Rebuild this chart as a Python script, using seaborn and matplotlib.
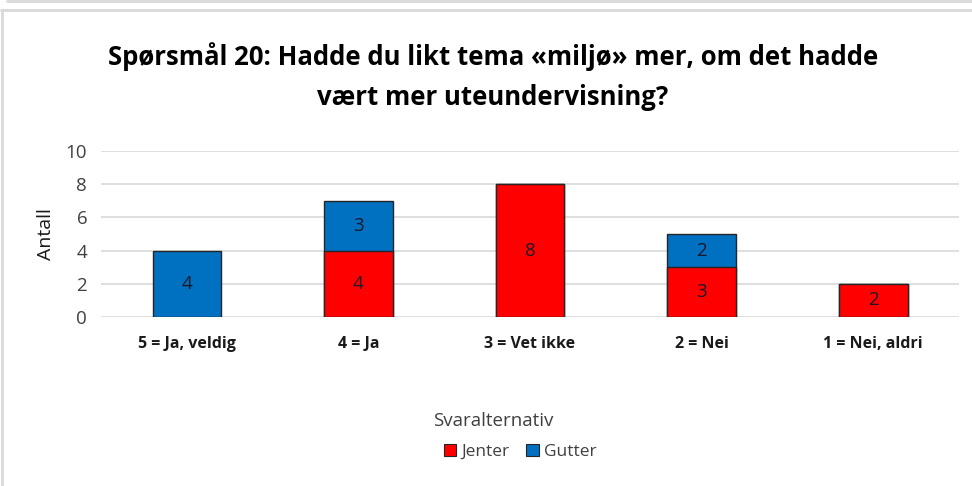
import matplotlib
matplotlib.use("Agg")
import matplotlib.pyplot as plt
import seaborn as sns
import pandas as pd
from matplotlib.lines import Line2D
from matplotlib.patches import Patch

categories = ["5 = Ja, veldig", "4 = Ja", "3 = Vet ikke", "2 = Nei", "1 = Nei, aldri"]
jenter = [0, 4, 8, 3, 2]
gutter = [4, 3, 0, 2, 0]
yticks = [0, 2, 4, 6, 8, 10]

title = "Spørsmål 20: Hadde du likt tema «miljø» mer, om det hadde\nvært mer uteundervisning?"
ylabel = "Antall"
legend_title = "Svaralternativ"
series_names = ["Jenter", "Gutter"]

red = "#FF0000"
blue = "#0070C0"

sns.set_theme(style="white")
plt.rcParams["font.family"] = ["Open Sans", "DejaVu Sans"]

df = pd.DataFrame({"cat": categories, "jenter": jenter, "gutter": gutter})
df["total"] = df["jenter"] + df["gutter"]

fig = plt.figure(figsize=(9.72, 4.86), dpi=100)
ax = fig.add_axes([0.104, 0.3477, 0.8826, 0.3416])

sns.barplot(data=df, x="cat", y="total", color=blue, width=0.4, ax=ax,
            edgecolor="#262626", linewidth=1.0, saturation=1, zorder=3)
sns.barplot(data=df, x="cat", y="jenter", color=red, width=0.4, ax=ax,
            edgecolor="#262626", linewidth=1.0, saturation=1, zorder=4)

for p in ax.patches:
    if p.get_height() == 0:
        p.set_visible(False)

for i, (j, g) in enumerate(zip(jenter, gutter)):
    if j > 0:
        ax.text(i, j / 2, str(j), ha="center", va="center", fontsize=13.5,
                color="#1a1a2a", zorder=5)
    if g > 0:
        ax.text(i, j + g / 2, str(g), ha="center", va="center", fontsize=13.5,
                color="#1a1a2a", zorder=5)

ax.set_ylim(0, 10)
ax.set_xlim(-0.5, 4.5)
ax.set_yticks(yticks)
ax.set_yticklabels([str(v) for v in yticks], fontsize=13.5, color="#404040")
ax.set_xticks(range(len(categories)))
ax.set_xticklabels(categories, fontsize=11.5, fontweight="bold", color="#1a1a1a")
ax.tick_params(axis="both", length=0)
ax.tick_params(axis="x", pad=14)
ax.tick_params(axis="y", pad=10)
ax.set_xlabel("")
ax.set_ylabel(ylabel, fontsize=14, color="#1a1a1a", labelpad=8)
ax.grid(axis="y", color="#d9d9d9", linewidth=1.2, zorder=0)
ax.set_axisbelow(True)
for s in ax.spines.values():
    s.set_visible(False)

fig.text(0.507, 0.842, title, ha="center", va="center", fontsize=18.5,
         fontweight="bold", color="#000000", linespacing=1.6)

fig.text(493 / 972, 1 - 421 / 486, legend_title, ha="center", va="center",
         fontsize=13.5, color="#404040")
handles = [Patch(facecolor=red, edgecolor="#262626", linewidth=0.8),
           Patch(facecolor=blue, edgecolor="#262626", linewidth=0.8)]
leg = fig.legend(handles, series_names, loc="center",
                 bbox_to_anchor=(520 / 972, 1 - 452 / 486),
                 ncol=2, frameon=False, handlelength=0.7, handleheight=0.7,
                 handletextpad=0.3, columnspacing=1.0, borderpad=0,
                 prop={"size": 12.5})
for t in leg.get_texts():
    t.set_color("#404040")

W, H = 972, 486
fig.add_artist(Line2D([7 / W, 1], [1 - 1 / H, 1 - 1 / H], color="#d9d9d9", linewidth=2, transform=fig.transFigure))
fig.add_artist(Line2D([1 / W, 1], [1 - 10 / H, 1 - 10 / H], color="#d9d9d9", linewidth=2, transform=fig.transFigure))
fig.add_artist(Line2D([2 / W, 2 / W], [0, 1 - 10 / H], color="#d9d9d9", linewidth=2, transform=fig.transFigure))

fig.savefig("out.png", dpi=100)
